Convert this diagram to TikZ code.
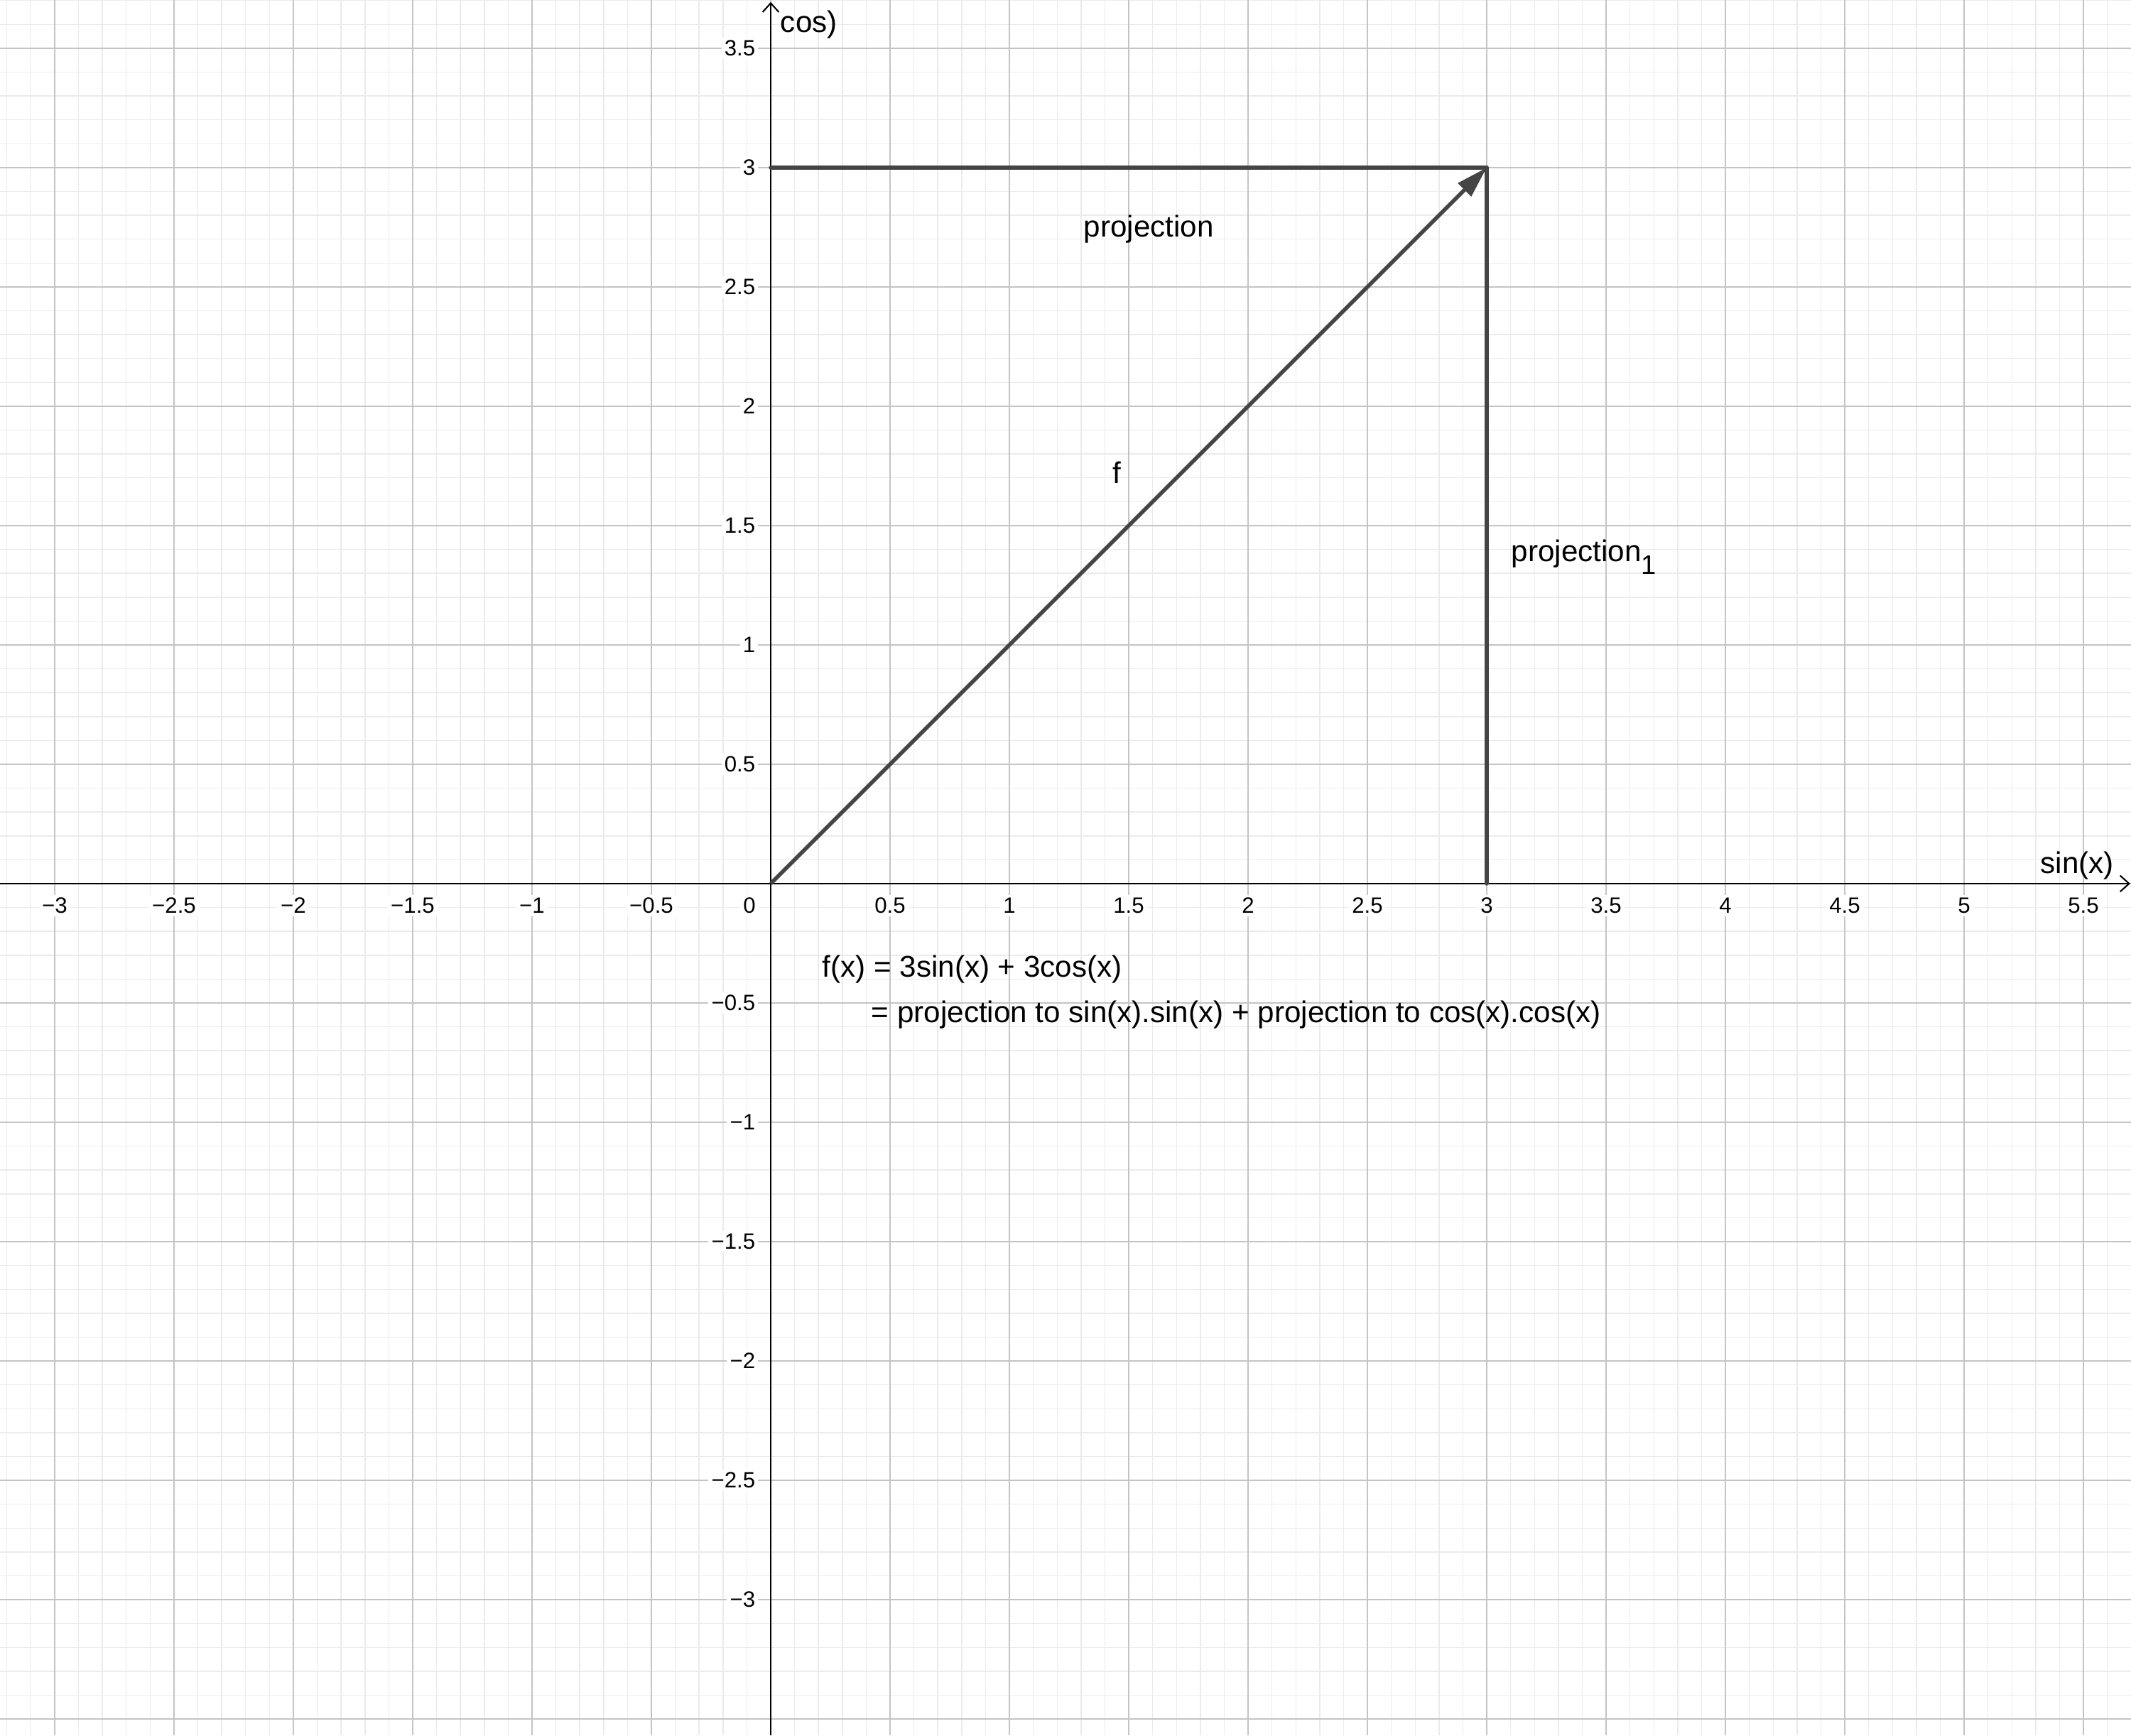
\documentclass[tikz,border=0pt]{standalone}
\usepackage{fontspec}
\setmainfont{Liberation Sans}
\usetikzlibrary{arrows.meta}
\definecolor{minorgrid}{HTML}{EBEBEB}
\definecolor{majorgrid}{HTML}{C4C4C4}
\definecolor{seg}{HTML}{444444}
\begin{document}
\begin{tikzpicture}[x=2.8cm,y=2.8cm,
  ticklab/.style={fill=white,inner sep=1pt,font=\fontsize{7.4}{8}\selectfont},
  lab/.style={inner sep=0pt,anchor=base west,font=\fontsize{10}{12}\selectfont},
  segline/.style={draw=seg,line width=1.3pt,line cap=round},
  axisline/.style={line width=0.5pt,black}]
\useasboundingbox (-3.2292,-3.5685) rectangle (5.6994,3.7024);
\fill[white] (-3.2292,-3.5685) rectangle (5.6994,3.7024);
\draw[minorgrid,line width=0.35pt,step=0.1] (-3.2292,-3.5685) grid (5.6994,3.7024);
\draw[majorgrid,line width=0.47pt,step=0.5] (-3.2292,-3.5685) grid (5.6994,3.7024);
% axes
\coordinate (xl) at (-3.2292,0);
\coordinate (xr) at (5.696,0);
\coordinate (yb) at (0,-3.5685);
\coordinate (yt) at (0,3.694);
\draw[axisline,-{Straight Barb[length=3pt,width=5.4pt]}] (xl) -- (xr);
\draw[axisline,-{Straight Barb[length=3pt,width=5.4pt]}] (yb) -- (yt);
% x tick labels
\foreach \v/\t [count=\i] in {-3/−3,-2.5/−2.5,-2/−2,-1.5/−1.5,-1/−1,-0.5/−0.5,0.5/0.5,1/1,1.5/1.5,2/2,2.5/2.5,3/3,3.5/3.5,4/4,4.5/4.5,5/5,5.5/5.5}
  \node[ticklab] (tx\i) at (\v,-0.092) {\t};
\node[ticklab] (tzero) at (-0.089,-0.092) {0};
% y tick labels
\foreach \v/\t [count=\i] in {3.5/3.5,3/3,2.5/2.5,2/2,1.5/1.5,1/1,0.5/0.5,-0.5/−0.5,-1/−1,-1.5/−1.5,-2/−2,-2.5/−2.5,-3/−3}
  \node[ticklab,anchor=east] (ty\i) at (-0.05,\v) {\t};
% construction
\coordinate (O) at (0,0);
\coordinate (P) at (3,3);
\coordinate (A) at (0,3);
\coordinate (B) at (3,0);
\draw[segline] (A) -- (P);
\draw[segline] (P) -- (B);
\draw[segline,line cap=butt,-{Triangle[length=10.5pt,width=6pt]}] (O) -- (P);
% labels
\node[lab] (cosl) at (0.039,3.568) {cos)};
\node[lab] (sinl) at (5.318,0.042) {sin(x)};
\node[lab] (proj) at (1.3095,2.711) {projection};
\node[lab] (flab) at (1.43,1.676) {f};
\node[lab] (proj1) at (3.101,1.351) {projection\raisebox{-4.3pt}{\fontsize{9}{9}\selectfont 1}};
\node[lab] (eq1) at (0.214,-0.390) {f(x) = 3sin(x) + 3cos(x)};
\node[lab] (eq2) at (0.42,-0.583) {= projection to sin(x).sin(x) + projection to cos(x).cos(x)};
\end{tikzpicture}
\end{document}
